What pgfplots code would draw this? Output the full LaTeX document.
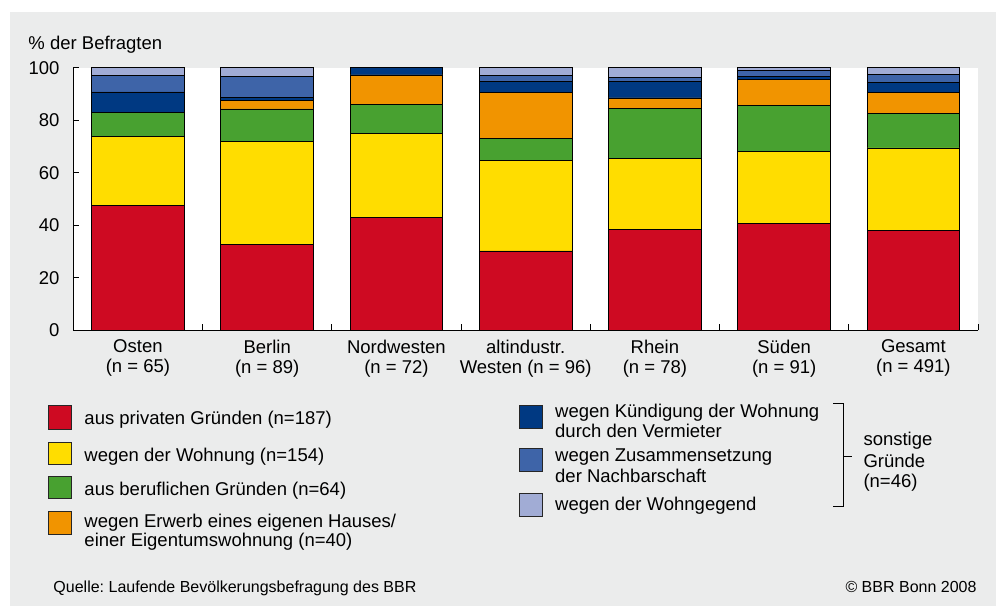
\documentclass[border=0pt]{standalone}
\usepackage{fontspec}
\setmainfont{Liberation Sans}
\usepackage{pgfplots}
\pgfplotsset{compat=1.18}
\definecolor{cRed}{RGB}{206,10,34}
\definecolor{cYellow}{RGB}{255,221,0}
\definecolor{cGreen}{RGB}{72,161,48}
\definecolor{cOrange}{RGB}{241,148,0}
\definecolor{cDark}{RGB}{0,57,130}
\definecolor{cMid}{RGB}{62,100,168}
\definecolor{cLight}{RGB}{161,172,213}
\definecolor{bggray}{RGB}{235,236,236}
\begin{document}
\frenchspacing
\begin{tikzpicture}[x=1bp,y=1bp,font=\fontsize{18.5bp}{20bp}\selectfont]
\useasboundingbox (0,0) rectangle (996,606);
\fill[white] (0,0) rectangle (996,606);
\fill[bggray] (10,0) rectangle (996,594);
\begin{axis}[
  at={(73.3bp,275.7bp)}, anchor=south west,
  scale only axis, width=904.7bp, height=262.6bp,
  ybar stacked, bar width=92.7bp,
  xmin=-0.5, xmax=6.5, ymin=0, ymax=100,
  axis x line*=bottom, axis y line*=left,
  axis line style={line width=0.9bp, black},
  axis background/.style={fill=white},
  tick align=inside,
  major tick length=6bp, minor tick length=6bp,
  tick style={line width=0.7bp, black},
  xtick={0,1,2,3,4,5,6},
  minor xtick={0.5,1.5,2.5,3.5,4.5,5.5,6.5},
  every major x tick/.append style={draw=none},
  xticklabels={{Osten\\(n = 65)},{Berlin\\(n = 89)},{Nordwesten\\(n = 72)},{altindustr.\\Westen (n = 96)},{Rhein\\(n = 78)},{S\"uden\\(n = 91)},{Gesamt\\(n = 491)}},
  xticklabel style={align=center, anchor=north, inner sep=0pt, yshift=-9.5bp, font=\fontsize{18.5bp}{20bp}\selectfont},
  ytick={0,20,40,60,80,100},
  yticklabel style={anchor=east, inner sep=0pt, xshift=-13.7bp, font=\fontsize{18.5bp}{20bp}\selectfont},
  /pgf/number format/assume math mode=true,
  every axis plot/.append style={draw=black, line width=0.8bp},
]
% aus privaten Gruenden
\addplot[fill=cRed] coordinates {(0,47.69) (1,32.58) (2,43.06) (3,30.21) (4,38.46) (5,40.66) (6,38.09)};
% wegen der Wohnung
\addplot[fill=cYellow] coordinates {(0,26.15) (1,39.33) (2,31.94) (3,34.38) (4,26.92) (5,27.47) (6,31.36)};
% aus beruflichen Gruenden
\addplot[fill=cGreen] coordinates {(0,9.23) (1,12.36) (2,11.11) (3,8.33) (4,19.23) (5,17.58) (6,13.03)};
% Erwerb Haus/Eigentumswohnung
\addplot[fill=cOrange] coordinates {(0,0) (1,3.37) (2,11.11) (3,17.71) (4,3.85) (5,9.89) (6,8.15)};
% Kuendigung
\addplot[fill=cDark] coordinates {(0,7.69) (1,1.12) (2,2.78) (3,4.17) (4,6.41) (5,1.10) (6,3.67)};
% Zusammensetzung Nachbarschaft
\addplot[fill=cMid] coordinates {(0,6.15) (1,7.87) (2,0) (3,2.08) (4,1.28) (5,2.20) (6,3.26)};
% Wohngegend
\addplot[fill=cLight] coordinates {(0,3.08) (1,3.37) (2,0) (3,3.13) (4,3.85) (5,1.10) (6,2.44)};
\end{axis}
% y axis title
\node[anchor=base west, inner sep=0] at (28.3,606-50) {\% der Befragten};
% legend left
\begin{scope}[every node/.style={anchor=base west, inner sep=0}]
\filldraw[fill=cRed, draw=black!85, line width=0.7bp] (48.3,606-405.7) rectangle (71.3,606-429);
\node at (84.3,606-425) {aus privaten Gr\"unden (n=187)};
\filldraw[fill=cYellow, draw=black!85, line width=0.7bp] (48.3,606-442) rectangle (71.3,606-464.7);
\node at (84.3,606-461.7) {wegen der Wohnung (n=154)};
\filldraw[fill=cGreen, draw=black!85, line width=0.7bp] (48.3,606-476) rectangle (71.3,606-498.7);
\node at (84.3,606-496) {aus beruflichen Gr\"unden (n=64)};
\filldraw[fill=cOrange, draw=black!85, line width=0.7bp] (48.3,606-511.7) rectangle (71.3,606-534.3);
\node at (84.3,606-527.3) {wegen Erwerb eines eigenen Hauses/};
\node at (84.3,606-546.7) {einer Eigentumswohnung (n=40)};
% legend right
\filldraw[fill=cDark, draw=black!85, line width=0.7bp] (519.3,606-405) rectangle (542.7,606-428);
\node at (555,606-417.3) {wegen K\"undigung der Wohnung};
\node at (555,606-437.3) {durch den Vermieter};
\filldraw[fill=cMid, draw=black!85, line width=0.7bp] (519.3,606-448) rectangle (542.7,606-471);
\node at (555,606-462) {wegen Zusammensetzung};
\node at (555,606-482.3) {der Nachbarschaft};
\filldraw[fill=cLight, draw=black!85, line width=0.7bp] (519.3,606-493.3) rectangle (542.7,606-516);
\node at (555,606-510.7) {wegen der Wohngegend};
\draw[line width=1bp] (833.3,606-404) -- (843.3,606-404) -- (843.3,606-506.7) -- (833.3,606-506.7);
\draw[line width=1bp] (843.3,606-456.7) -- (852,606-456.7);
\node at (863.3,606-446) {sonstige};
\node at (863.3,606-467.3) {Gr\"unde};
\node at (863.3,606-487.5) {(n=46)};
% footer
\node[font=\fontsize{16bp}{18bp}\selectfont] at (53.3,606-592.3) {Quelle: Laufende Bev\"olkerungsbefragung des BBR};
\end{scope}
\node[anchor=base east, inner sep=0, font=\fontsize{16bp}{18bp}\selectfont] at (976.7,606-592.3) {\textcopyright{} BBR Bonn 2008};
\end{tikzpicture}
\end{document}
